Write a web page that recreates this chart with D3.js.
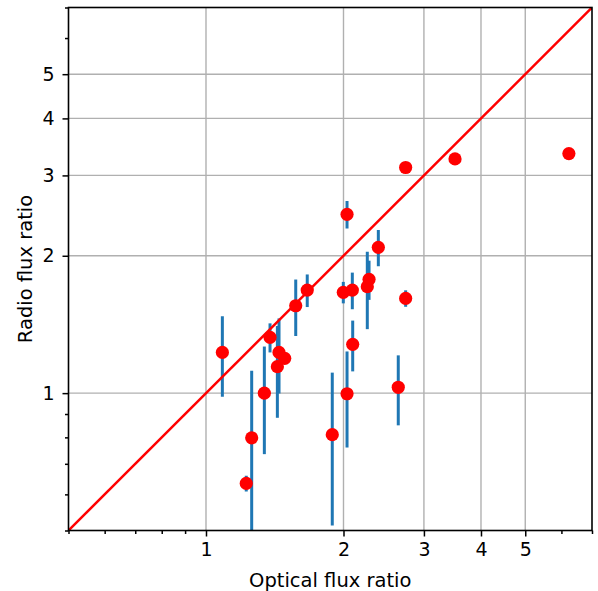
<!DOCTYPE html>
<html lang="en">
<head>
<meta charset="UTF-8">
<title>Flux ratios</title>
<style>
  body { margin: 0; background: #fff; }
  svg text { font-family: "DejaVu Sans", sans-serif; fill: #000; }
</style>
</head>
<body>
<div id="chart"></div>
<script src="https://d3js.org/d3.v7.min.js"></script>
<script>
// values
const optical = [1.086, 1.259, 1.225, 1.342, 1.381, 1.445, 1.487, 1.433, 1.572, 1.666, 1.998, 2.036,
                 2.091, 2.275, 2.255, 2.384, 2.736, 2.095, 2.036, 1.890, 2.636, 2.736, 3.509, 6.23];
const radio = [1.228, 0.798, 0.634, 1.0, 1.325, 1.228, 1.192, 1.143, 1.554, 1.682, 1.663, 2.465,
               1.682, 1.776, 1.711, 2.087, 1.613, 1.279, 0.997, 0.811, 1.030, 3.122, 3.26, 3.35];
const radioErr = [0.246, 0.322, 0.025, 0.265, 0.097, 0.23, 0.03, 0.26, 0.22, 0.138, 0.09, 0.17,
                  0.155, 0.175, 0.33, 0.19, 0.067, 0.163, 0.237, 0.298, 0.18, 0, 0, 0];
const majorTicks = [1, 2, 3, 4, 5];
const minorTicks = [0.5, 0.6, 0.7, 0.8, 0.9, 6, 7];
const domain = [0.5, 7];

const w = 598, h = 591;
const mLeft = 68.5, mRight = 592, mTop = 7.5, mBottom = 530.5;

const svg = d3.select("#chart").append("svg")
  .attr("width", w)
  .attr("height", h);

const x = d3.scaleLog().domain(domain).range([mLeft, mRight]);
const y = d3.scaleLog().domain(domain).range([mBottom, mTop]);

svg.append("defs").append("clipPath").attr("id", "plot")
  .append("rect")
  .attr("x", mLeft).attr("y", mTop)
  .attr("width", mRight - mLeft).attr("height", mBottom - mTop);

// grid on major ticks
const grid = svg.append("g").attr("stroke", "#b0b0b0").attr("stroke-width", 1.4);
grid.selectAll(".gx").data(majorTicks).enter().append("line")
  .attr("x1", d => x(d)).attr("x2", d => x(d))
  .attr("y1", mTop).attr("y2", mBottom);
grid.selectAll(".gy").data(majorTicks).enter().append("line")
  .attr("y1", d => y(d)).attr("y2", d => y(d))
  .attr("x1", mLeft).attr("x2", mRight);

const plot = svg.append("g").attr("clip-path", "url(#plot)");

// error bars
const data = optical.map((v, i) => ({ x: v, y: radio[i], e: radioErr[i] }));
plot.selectAll(".err").data(data.filter(d => d.e > 0)).enter().append("line")
  .attr("stroke", "#1f77b4")
  .attr("stroke-width", 3)
  .attr("x1", d => x(d.x)).attr("x2", d => x(d.x))
  .attr("y1", d => y(d.y + d.e))
  .attr("y2", d => y(Math.max(d.y - d.e, 0.3)));

// one-to-one line
plot.append("line")
  .attr("stroke", "red")
  .attr("stroke-width", 2.5)
  .attr("x1", x(domain[0])).attr("y1", y(domain[0]))
  .attr("x2", x(domain[1])).attr("y2", y(domain[1]));

// points
plot.selectAll(".pt").data(data).enter().append("circle")
  .attr("cx", d => x(d.x))
  .attr("cy", d => y(d.y))
  .attr("r", 6.6)
  .attr("fill", "red");

// axes
const fmt = d3.format("d");
svg.append("g")
  .attr("transform", "translate(0," + mBottom + ")")
  .call(d3.axisBottom(x).tickValues(majorTicks).tickFormat(fmt).tickSize(6).tickPadding(6));
svg.append("g")
  .attr("transform", "translate(0," + mBottom + ")")
  .call(d3.axisBottom(x).tickValues(minorTicks).tickFormat("").tickSize(3.5));
svg.append("g")
  .attr("transform", "translate(" + mLeft + ",0)")
  .call(d3.axisLeft(y).tickValues(majorTicks).tickFormat(fmt).tickSize(6).tickPadding(8));
svg.append("g")
  .attr("transform", "translate(" + mLeft + ",0)")
  .call(d3.axisLeft(y).tickValues(minorTicks).tickFormat("").tickSize(3.5));

svg.selectAll(".domain").remove();
svg.selectAll(".tick line").attr("stroke", "#000").attr("stroke-width", 1.5);
svg.selectAll(".tick text").style("font-size", "19px").attr("fill", "#000");

// frame
svg.append("rect")
  .attr("x", mLeft).attr("y", mTop)
  .attr("width", mRight - mLeft).attr("height", mBottom - mTop)
  .attr("fill", "none")
  .attr("stroke", "#000")
  .attr("stroke-width", 1.6);

// axis titles
svg.append("text")
  .attr("x", (mLeft + mRight) / 2)
  .attr("y", 587)
  .attr("text-anchor", "middle")
  .style("font-size", "19.5px")
  .text("Optical flux ratio");

svg.append("text")
  .attr("transform", "translate(31.5," + (mTop + mBottom) / 2 + ") rotate(-90)")
  .attr("text-anchor", "middle")
  .style("font-size", "19.5px")
  .text("Radio flux ratio");
</script>
</body>
</html>
